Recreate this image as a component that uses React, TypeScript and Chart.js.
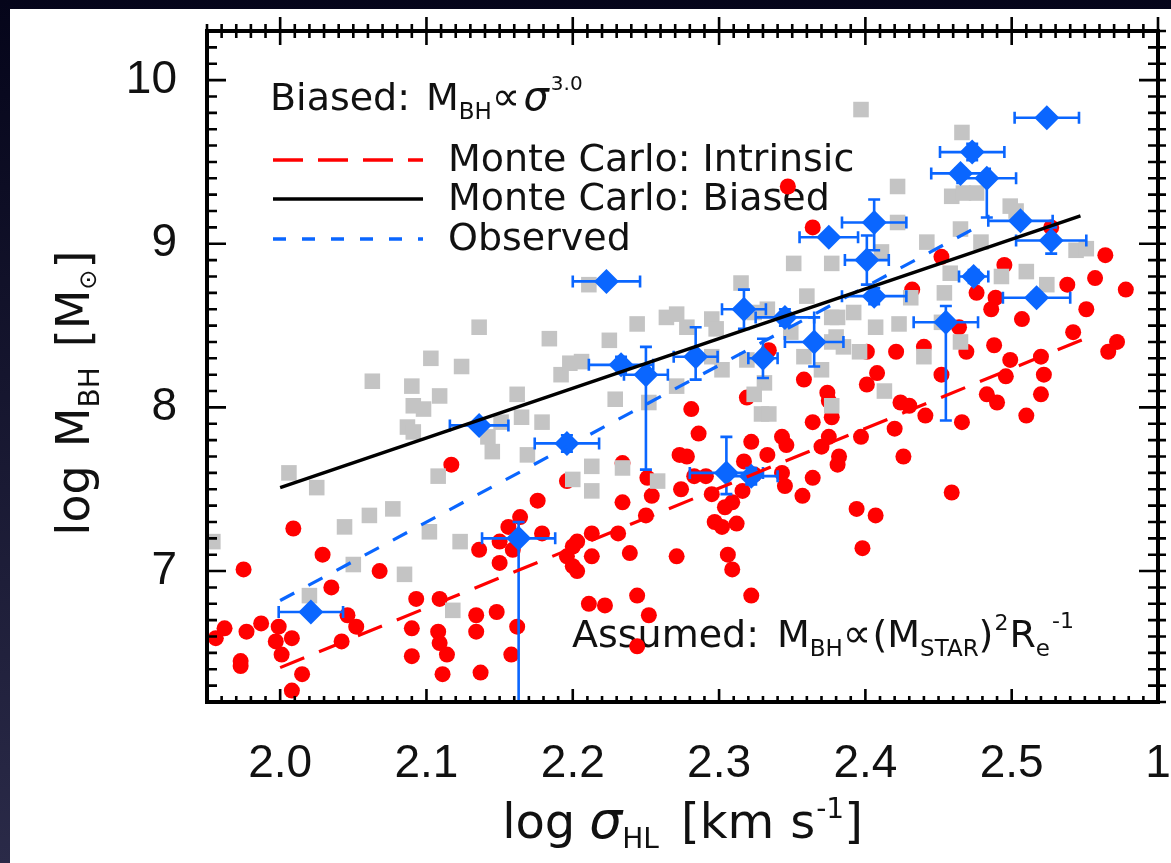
import React, { useEffect, useRef } from "react";
import { Chart, registerables } from "chart.js";

Chart.register(...registerables);

// ---- axes ----
const X_MIN = 1.95;
const X_MAX = 2.6;
const Y_MIN = 6.2;
const Y_MAX = 10.3;
const xTickValues = [2.0, 2.1, 2.2, 2.3, 2.4, 2.5, 2.6];
const xTickLabels = ["2.0", "2.1", "2.2", "2.3", "2.4", "2.5", "1"];
const yTickValues = [7, 8, 9, 10];
const yTickLabels = ["7", "8", "9", "10"];

// ---- Monte Carlo: intrinsic sample (red circles) ----
const intrinsicX = [
  2.009, 1.975, 2.029, 2.068, 2.035, 1.956, 1.962, 1.977, 1.987, 1.999, 1.997, 2.008, 2.001, 1.973, 1.973, 2.015,
  2.008, 2.046, 2.052, 2.042, 2.093, 2.09, 2.09, 2.109, 2.108, 2.109, 2.114, 2.111, 2.134, 2.134, 2.148, 2.137,
  2.136, 2.15, 2.156, 2.164, 2.159, 2.15, 2.162, 2.158, 2.117, 2.176, 2.2, 2.2, 2.196, 2.281, 2.286, 2.273,
  2.278, 2.179, 2.203, 2.213, 2.196, 2.213, 2.203, 2.234, 2.231, 2.239, 2.25, 2.251, 2.254, 2.271, 2.274, 2.283,
  2.291, 2.295, 2.211, 2.222, 2.244, 2.252, 2.244, 2.297, 2.304, 2.309, 2.302, 2.312, 2.306, 2.309, 2.322, 2.316,
  2.317, 2.322, 2.333, 2.324, 2.343, 2.346, 2.343, 2.345, 2.357, 2.364, 2.364, 2.37, 2.375, 2.375, 2.319, 2.234,
  2.347, 2.364, 2.334, 2.358, 2.374, 2.527, 2.564, 2.557, 2.578, 2.538, 2.551, 2.495, 2.476, 2.489, 2.486, 2.507,
  2.542, 2.572, 2.566, 2.464, 2.488, 2.499, 2.52, 2.469, 2.452, 2.421, 2.44, 2.452, 2.408, 2.401, 2.432, 2.522,
  2.401, 2.496, 2.52, 2.483, 2.49, 2.51, 2.466, 2.441, 2.424, 2.43, 2.377, 2.42, 2.397, 2.382, 2.381, 2.426,
  2.459, 2.394, 2.407, 2.398,
];
const intrinsicY = [
  7.26, 7.01, 7.1, 7.0, 6.9, 6.59, 6.65, 6.63, 6.68, 6.66, 6.57, 6.59, 6.49, 6.45, 6.42, 6.37,
  6.27, 6.73, 6.66, 6.57, 6.83, 6.65, 6.48, 6.83, 6.63, 6.56, 6.49, 6.37, 6.73, 6.63, 6.75, 6.38,
  7.13, 7.18, 7.27, 7.33, 7.13, 7.05, 6.66, 6.49, 7.65, 7.43, 7.15, 7.03, 7.55, 7.99, 7.84, 7.71,
  7.7, 7.23, 7.18, 7.23, 7.09, 7.09, 7.0, 7.42, 7.23, 7.11, 7.34, 7.57, 7.46, 7.09, 7.5, 7.58,
  7.58, 7.47, 6.8, 6.79, 6.85, 6.73, 6.54, 7.3, 7.39, 7.42, 7.27, 7.29, 7.1, 7.01, 6.85, 7.49,
  7.67, 7.79, 7.71, 7.59, 7.82, 7.77, 7.6, 7.52, 7.46, 7.57, 7.91, 7.76, 7.82, 8.04, 8.06, 7.66,
  9.35, 9.1, 8.35, 8.17, 8.09, 9.1, 8.93, 8.79, 8.72, 8.75, 8.6, 8.87, 8.7, 8.67, 8.6, 8.54,
  8.46, 8.4, 8.34, 8.49, 8.38, 8.29, 8.31, 8.34, 8.92, 8.34, 8.37, 8.2, 8.21, 8.34, 8.72, 8.2,
  8.14, 8.19, 8.08, 8.08, 8.03, 7.95, 7.91, 7.95, 8.03, 8.01, 7.94, 7.87, 7.82, 7.7, 7.65, 7.7,
  7.48, 7.38, 7.34, 7.14,
];

// ---- Monte Carlo: biased sample (grey squares) ----
const biasedX = [
  2.136, 2.103, 2.124, 2.063, 2.09, 2.109, 2.091, 2.098, 2.087, 2.091, 2.162, 2.142, 2.145, 2.151, 2.108, 2.006,
  2.025, 1.954, 2.044, 2.061, 2.077, 2.05, 2.02, 2.085, 2.102, 2.123, 2.118, 2.184, 2.179, 2.169, 2.2, 2.192,
  2.198, 2.211, 2.351, 2.377, 2.315, 2.36, 2.225, 2.244, 2.264, 2.271, 2.278, 2.295, 2.298, 2.324, 2.333, 2.349,
  2.377, 2.206, 2.295, 2.302, 2.319, 2.358, 2.377, 2.37, 2.271, 2.331, 2.229, 2.165, 2.252, 2.213, 2.213, 2.234,
  2.258, 2.329, 2.334, 2.377, 2.324, 2.397, 2.466, 2.422, 2.459, 2.467, 2.476, 2.499, 2.503, 2.422, 2.465, 2.442,
  2.479, 2.544, 2.551, 2.411, 2.493, 2.51, 2.524, 2.458, 2.454, 2.431, 2.423, 2.407, 2.452, 2.381, 2.392, 2.385,
  2.396, 2.44, 2.465, 2.38, 2.413,
];
const biasedY = [
  8.49, 8.3, 8.25, 8.16, 8.13, 8.07, 8.01, 7.99, 7.88, 7.85, 8.08, 7.82, 7.73, 7.91, 7.58, 7.6,
  7.51, 7.18, 7.27, 7.34, 7.38, 7.04, 6.85, 6.98, 7.24, 7.18, 6.76, 8.42, 7.91, 7.71, 7.56, 8.2,
  8.27, 8.75, 8.88, 8.88, 8.76, 8.68, 8.41, 8.51, 8.55, 8.57, 8.49, 8.54, 8.48, 8.58, 8.6, 8.46,
  8.55, 8.28, 8.31, 8.23, 8.29, 8.31, 8.4, 8.23, 8.13, 8.15, 8.05, 7.94, 8.03, 7.64, 7.49, 7.63,
  7.55, 7.96, 7.96, 8.01, 8.08, 9.82, 9.68, 9.35, 9.29, 9.31, 9.31, 9.23, 9.2, 9.13, 9.09, 9.01,
  9.01, 8.96, 8.97, 8.95, 8.8, 8.83, 8.75, 8.82, 8.7, 8.67, 8.51, 8.49, 8.52, 8.55, 8.58, 8.37,
  8.34, 8.31, 8.4, 8.43, 8.1,
];

// ---- Observed galaxies (blue diamonds with error bars) ----
const obsX = [
  2.021, 2.163, 2.136, 2.196, 2.223, 2.233, 2.25, 2.284, 2.305, 2.322, 2.317, 2.33, 2.345, 2.365,
  2.375, 2.406, 2.401, 2.406, 2.455, 2.474, 2.473, 2.465, 2.483, 2.506, 2.527, 2.517, 2.524,
];
const obsY = [
  6.75, 7.2, 7.89, 7.78, 8.77, 8.26, 8.2, 8.31, 7.6, 7.58, 8.6, 8.3, 8.55, 8.4,
  9.04, 9.13, 8.9, 8.68, 8.52, 8.8, 9.56, 9.43, 9.4, 9.14, 9.02, 8.67, 9.77,
];
const obsXErr = [
  0.022, 0.025, 0.02, 0.022, 0.023, 0.022, 0.015, 0.015, 0.025, 0.018, 0.015, 0.01, 0.02, 0.02,
  0.02, 0.022, 0.015, 0.022, 0.022, 0.01, 0.022, 0.02, 0.02, 0.022, 0.024, 0.023, 0.022,
];
const obsYErrLo = [
  0, 1.2, 0, 0.05, 0, 0.05, 0.58, 0.14, 0.13, 0.05, 0.12, 0.12, 0.05, 0.15,
  0, 0.17, 0.15, 0.05, 0.6, 0.04, 0.05, 0.03, 0.24, 0.03, 0.08, 0.03, 0,
];
const obsYErrHi = [
  0, 0.1, 0, 0.05, 0, 0.05, 0.17, 0.18, 0.22, 0.05, 0.12, 0.12, 0.05, 0.15,
  0, 0.14, 0.15, 0.05, 0.1, 0.04, 0.05, 0.03, 0.03, 0.03, 0.08, 0.03, 0,
];

// ---- fitted relations ----
const fitIntrinsicX = [2.0, 2.55];
const fitIntrinsicY = [6.41, 8.42];
const fitBiasedX = [2.0, 2.547];
const fitBiasedY = [7.51, 9.17];
const fitObservedX = [2.0, 2.48];
const fitObservedY = [6.82, 9.12];

const RED = "#ff0000";
const BLUE = "#0a66ff";
const GREY = "#c4c4c4";
const TXT = "#111111";
const FONT = "DejaVu Sans";

const pts = (xs: number[], ys: number[]) => xs.map((x, i) => ({ x, y: ys[i] }));

type Seg = { t: string; s: number; dy?: number; gap?: number; it?: boolean };

function drawRich(ctx: CanvasRenderingContext2D, x: number, y: number, segs: Seg[], align: "left" | "center" = "left") {
  const f = (g: Seg) => `${g.it ? "italic " : ""}${g.s}px "${FONT}"`;
  let total = 0;
  for (const g of segs) {
    ctx.font = f(g);
    total += (g.gap || 0) + ctx.measureText(g.t).width;
  }
  let cx = align === "center" ? x - total / 2 : x;
  ctx.textAlign = "left";
  ctx.textBaseline = "alphabetic";
  for (const g of segs) {
    cx += g.gap || 0;
    ctx.font = f(g);
    ctx.fillText(g.t, cx, y + (g.dy || 0));
    cx += ctx.measureText(g.t).width;
  }
}

const OBS_INDEX = 3;

const backgroundPlugin = {
  id: "bg",
  beforeDraw(chart: any) {
    const ctx = chart.ctx as CanvasRenderingContext2D;
    const w = chart.width, h = chart.height;
    const g = ctx.createLinearGradient(0, 0, 0, h);
    g.addColorStop(0, "#05051a");
    g.addColorStop(1, "#2a2a48");
    ctx.save();
    ctx.fillStyle = g;
    ctx.fillRect(0, 0, w, h);
    ctx.fillStyle = "#ffffff";
    ctx.fillRect(10, 9, w - 10, h - 9);
    ctx.restore();
  },
  beforeDatasetsDraw(chart: any) {
    const ctx = chart.ctx as CanvasRenderingContext2D;
    ctx.save();
    ctx.fillStyle = TXT;
    // legend header
    drawRich(ctx, 270, 110, [
      { t: "Biased:", s: 38 },
      { t: "M", s: 38, gap: 16 },
      { t: "BH", s: 23, dy: 9 },
      { t: "\u221D", s: 40, gap: 0 },
      { t: "\u03C3", s: 40, gap: 3, it: true },
      { t: "3.0", s: 20, dy: -20, gap: 2 },
    ]);
    const rows = [
      { y: 160, color: RED, dash: [30, 15], label: "Monte Carlo: Intrinsic" },
      { y: 199, color: "#000000", dash: [], label: "Monte Carlo: Biased" },
      { y: 239, color: BLUE, dash: [13, 16], label: "Observed" },
    ];
    for (const r of rows) {
      ctx.strokeStyle = r.color;
      ctx.lineWidth = 3.5;
      ctx.setLineDash(r.dash);
      ctx.beginPath();
      ctx.moveTo(273, r.y);
      ctx.lineTo(423, r.y);
      ctx.stroke();
      ctx.setLineDash([]);
      ctx.font = `38px "${FONT}"`;
      ctx.textBaseline = "middle";
      ctx.textAlign = "left";
      ctx.fillText(r.label, 448, r.y + 1);
    }
    // assumed relation
    drawRich(ctx, 572, 647, [
      { t: "Assumed:", s: 38 },
      { t: "M", s: 38, gap: 18 },
      { t: "BH", s: 23, dy: 9 },
      { t: "\u221D", s: 40, gap: 0 },
      { t: "(", s: 38, gap: 1 },
      { t: "M", s: 38 },
      { t: "STAR", s: 23, dy: 9 },
      { t: ")", s: 38 },
      { t: "2", s: 22, dy: -17, gap: 1 },
      { t: "R", s: 38, gap: 1 },
      { t: "e", s: 23, dy: 9 },
      { t: "-1", s: 22, dy: -19, gap: 2 },
    ]);
    ctx.restore();
  },
};

const errorBarPlugin = {
  id: "errbars",
  beforeDatasetDraw(chart: any, args: any) {
    if (args.index !== OBS_INDEX) return;
    const ctx = chart.ctx as CanvasRenderingContext2D;
    const { left, right, top, bottom } = chart.chartArea;
    const xs = chart.scales.x, ys = chart.scales.y;
    ctx.save();
    ctx.beginPath();
    ctx.rect(left, top, right - left, bottom - top);
    ctx.clip();
    ctx.strokeStyle = BLUE;
    ctx.lineWidth = 2.6;
    const cap = 6;
    for (let i = 0; i < obsX.length; i++) {
      const px = xs.getPixelForValue(obsX[i]);
      const py = ys.getPixelForValue(obsY[i]);
      ctx.beginPath();
      if (obsXErr[i] > 0) {
        const x0 = xs.getPixelForValue(obsX[i] - obsXErr[i]);
        const x1 = xs.getPixelForValue(obsX[i] + obsXErr[i]);
        ctx.moveTo(x0, py); ctx.lineTo(x1, py);
        ctx.moveTo(x0, py - cap); ctx.lineTo(x0, py + cap);
        ctx.moveTo(x1, py - cap); ctx.lineTo(x1, py + cap);
      }
      if (obsYErrLo[i] > 0 || obsYErrHi[i] > 0) {
        const y0 = ys.getPixelForValue(obsY[i] - obsYErrLo[i]);
        const y1 = ys.getPixelForValue(obsY[i] + obsYErrHi[i]);
        ctx.moveTo(px, y0); ctx.lineTo(px, y1);
        ctx.moveTo(px - cap, y0); ctx.lineTo(px + cap, y0);
        ctx.moveTo(px - cap, y1); ctx.lineTo(px + cap, y1);
      }
      ctx.stroke();
    }
    ctx.restore();
  },
};

const framePlugin = {
  id: "frame",
  afterDatasetsDraw(chart: any) {
    const ctx = chart.ctx as CanvasRenderingContext2D;
    const { left, right, top, bottom } = chart.chartArea;
    const xs = chart.scales.x, ys = chart.scales.y;
    ctx.save();
    ctx.strokeStyle = "#000";
    ctx.lineCap = "butt";
    ctx.lineWidth = 2.6;
    ctx.beginPath();
    for (let k = Math.round(X_MIN * 100); k <= Math.round(X_MAX * 100); k++) {
      const major = k % 10 === 0;
      const px = xs.getPixelForValue(k / 100);
      ctx.moveTo(px, bottom); ctx.lineTo(px, bottom - (major ? 13 : 6));
      ctx.moveTo(px, top - (major ? 14 : 7)); ctx.lineTo(px, top + (major ? 14 : 7));
    }
    for (let k = Math.round(Y_MIN * 10); k <= Math.round(Y_MAX * 10); k++) {
      const major = k % 10 === 0;
      const py = ys.getPixelForValue(k / 10);
      ctx.moveTo(left, py); ctx.lineTo(left + (major ? 19 : 10), py);
      ctx.moveTo(right - (major ? 19 : 10), py); ctx.lineTo(right + 8, py);
    }
    ctx.stroke();
    ctx.lineWidth = 4;
    ctx.strokeRect(left, top, right - left, bottom - top);

    // axis titles
    ctx.fillStyle = TXT;
    drawRich(ctx, (left + right) / 2, 838, [
      { t: "log", s: 48 },
      { t: "\u03C3", s: 52, gap: 14, it: true },
      { t: "HL", s: 28, dy: 10 },
      { t: "[km", s: 48, gap: 22 },
      { t: "s", s: 48, gap: 16 },
      { t: "-1", s: 28, dy: -20, gap: 1 },
      { t: "]", s: 48 },
    ], "center");
    ctx.translate(89, 393);
    ctx.rotate(-Math.PI / 2);
    drawRich(ctx, 0, 0, [
      { t: "log", s: 46 },
      { t: "M", s: 46, gap: 18 },
      { t: "BH", s: 28, dy: 10 },
      { t: "[M", s: 46, gap: 20 },
      { t: "\u2299", s: 24, dy: 7 },
      { t: "]", s: 46, gap: 1 },
    ], "center");
    ctx.restore();
  },
};

export default function App() {
  const ref = useRef<HTMLCanvasElement | null>(null);

  useEffect(() => {
    if (!ref.current) return;
    const chart = new Chart(ref.current, {
      type: "scatter",
      data: {
        datasets: [
          {
            label: "Monte Carlo: Intrinsic fit",
            data: pts(fitIntrinsicX, fitIntrinsicY),
            showLine: true,
            borderColor: RED,
            borderWidth: 3.2,
            borderDash: [26, 16],
            pointRadius: 0,
            order: 0,
          },
          {
            label: "Monte Carlo: Biased fit",
            data: pts(fitBiasedX, fitBiasedY),
            showLine: true,
            borderColor: "#000000",
            borderWidth: 3.4,
            pointRadius: 0,
            order: 0,
          },
          {
            label: "Observed fit",
            data: pts(fitObservedX, fitObservedY),
            showLine: true,
            borderColor: BLUE,
            borderWidth: 3.2,
            borderDash: [16, 16],
            pointRadius: 0,
            order: 0,
          },
          {
            label: "Observed",
            data: pts(obsX, obsY),
            pointStyle: "rectRot",
            pointRadius: 12.5,
            backgroundColor: BLUE,
            borderWidth: 0,
            order: 1,
          },
          {
            label: "Biased",
            data: pts(biasedX, biasedY),
            pointStyle: "rect",
            pointRadius: 11,
            backgroundColor: GREY,
            borderWidth: 0,
            order: 2,
          },
          {
            label: "Intrinsic",
            data: pts(intrinsicX, intrinsicY),
            pointStyle: "circle",
            pointRadius: 8,
            backgroundColor: RED,
            borderWidth: 0,
            order: 3,
          },
        ],
      },
      options: {
        responsive: false,
        animation: false,
        events: [],
        layout: { padding: { left: 0, top: 31, right: 13, bottom: 0 } },
        plugins: { legend: { display: false }, tooltip: { enabled: false } },
        scales: {
          x: {
            type: "linear",
            min: X_MIN,
            max: X_MAX,
            grid: { display: false },
            border: { display: false },
            afterBuildTicks: (s: any) => {
              s.ticks = xTickValues.map((v) => ({ value: v }));
            },
            afterFit: (s: any) => {
              s.height = 161;
              s.paddingLeft = 0;
              s.paddingRight = 0;
            },
            ticks: {
              autoSkip: false,
              maxRotation: 0,
              minRotation: 0,
              padding: 27,
              color: TXT,
              font: { family: "Liberation Sans", size: 46 },
              callback: (_v: any, i: number) => xTickLabels[i],
            },
          },
          y: {
            type: "linear",
            min: Y_MIN,
            max: Y_MAX,
            grid: { display: false },
            border: { display: false },
            afterBuildTicks: (s: any) => {
              s.ticks = yTickValues.map((v) => ({ value: v }));
            },
            afterFit: (s: any) => {
              s.width = 207;
              s.paddingTop = 0;
              s.paddingBottom = 0;
            },
            ticks: {
              autoSkip: false,
              padding: 22,
              color: TXT,
              font: { family: "Liberation Sans", size: 46 },
              callback: (_v: any, i: number) => yTickLabels[i],
            },
          },
        },
      },
      plugins: [backgroundPlugin, errorBarPlugin, framePlugin],
    } as any);
    return () => chart.destroy();
  }, []);

  return (
    <div style={{ position: "fixed", left: 0, top: 0, width: 1171, height: 863, overflow: "hidden" }}>
      <canvas ref={ref} width={1171} height={863} style={{ display: "block", width: 1171, height: 863 }} />
    </div>
  );
}
